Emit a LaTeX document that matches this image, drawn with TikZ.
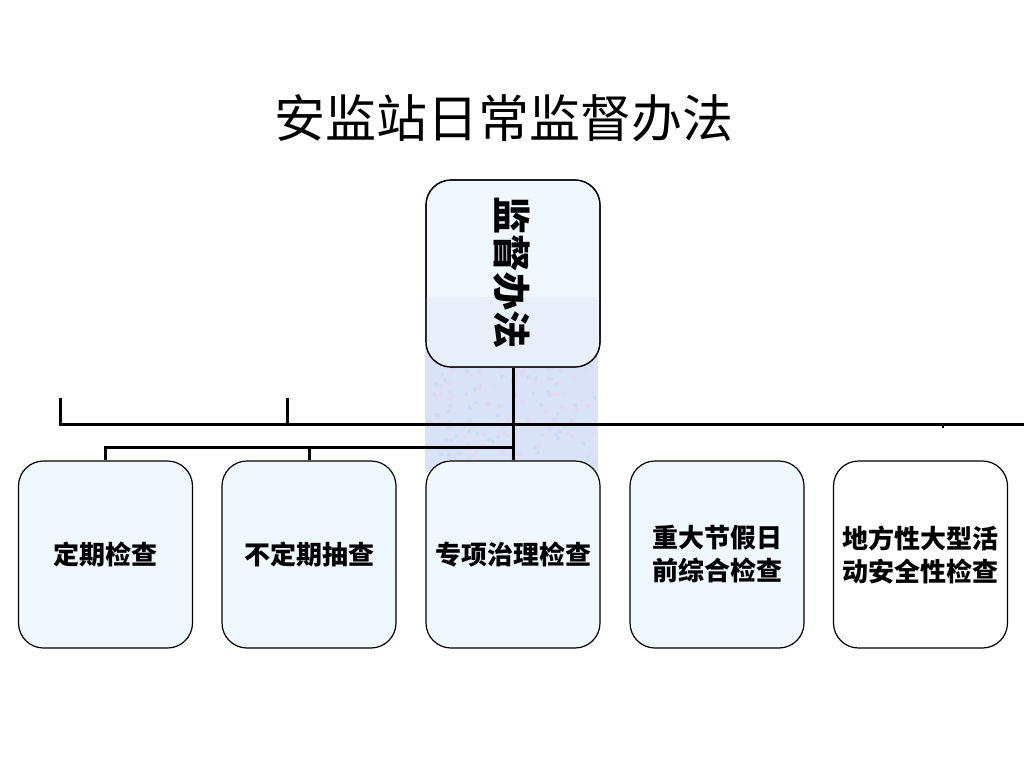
\documentclass[tikz,border=0pt]{standalone}
\usepackage{fontspec}
\setmainfont{Noto Sans CJK SC}
\usetikzlibrary{positioning}
\definecolor{boxfill}{HTML}{F0F8FF}
\definecolor{texture}{RGB}{218,226,247}
\definecolor{speckA}{RGB}{232,214,240}
\definecolor{speckB}{RGB}{200,220,245}
\begin{document}
\begin{tikzpicture}[x=1pt,y=-1pt,
  box/.style={draw=black, line width=1.2pt, rounded corners=25pt, fill=boxfill,
    minimum width=174pt, minimum height=187pt, inner sep=0pt, align=center,
    font=\fontsize{26}{33}\selectfont\bfseries},
  conn/.style={draw=black, line width=3pt}]
\useasboundingbox (0,0) rectangle (1024,768);
\fill[white] (0,0) rectangle (1024,768);
% title
\node[font=\fontsize{51}{60}\selectfont] (title) at (503.5,118) {安监站日常监督办法};
% texture block
\fill[texture] (425,297) rectangle (598,471);
\pgfmathsetseed{7}
\foreach \i in {1,...,260}{
  \pgfmathsetmacro{\px}{428+167*rnd}
  \pgfmathsetmacro{\py}{300+168*rnd}
  \pgfmathsetmacro{\pc}{rnd}
  \ifdim\pc pt<0.5pt
    \fill[speckA, opacity=0.7] (\px,\py) circle (2.2pt);
  \else
    \fill[speckB, opacity=0.7] (\px,\py) circle (2.2pt);
  \fi
}
% top box
\node[box] (top) at (513,273.5) {};
\begin{scope}
  \clip[rounded corners=25pt] (top.south west) rectangle (top.north east);
  \fill[texture, opacity=0.4] (425,297) rectangle (598,471);
\end{scope}
\node[draw=black, line width=1.2pt, rounded corners=25pt, minimum width=174pt, minimum height=187pt] at (top.center) {};
\node[font=\fontsize{38}{40}\selectfont\bfseries] (toptext) at (512,272.5) {\rotatebox{-90}{监督办法}};
% bottom boxes
\node[box] (b1) at (105.5,554.5) {定期检查};
\node[box] (b2) at (309,554.5) {不定期抽查};
\node[box] (b3) at (513,554.5) {专项治理检查};
\node[box] (b4) at (717,554.5) {重大节假日\\前综合检查};
\node[box, fill=white] (b5) at (920.5,554.5) {地方性大型活\\动安全性检查};
% upper bracket line
\coordinate (la) at (60,398);
\coordinate (lb) at (287,398);
\coordinate (lc) at (1024,424);
\coordinate (ld) at (943,424);
\draw[conn] (la) -- (la |- lc) -- (lc);
\draw[conn] (lb) -- (lb |- lc);
\draw[draw=black, line width=2pt] (ld) -- ++(0,4);
% main connectors
\coordinate (bus) at (513,447);
\draw[conn] (top.south) -- (b3.north);
\draw[conn] (b1.north) -- (b1.north |- bus) -- (bus);
\draw[conn] (b2.north) -- (b2.north |- bus);
\end{tikzpicture}
\end{document}
